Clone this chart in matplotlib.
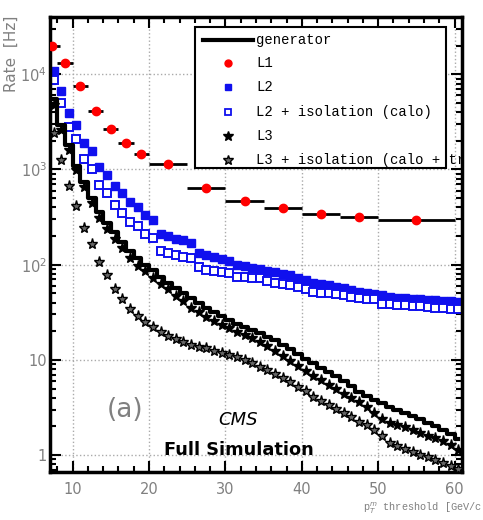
import numpy as np
import matplotlib
matplotlib.use("Agg")
import matplotlib.pyplot as plt
from matplotlib.patches import Rectangle
from matplotlib.lines import Line2D
from matplotlib.ticker import FixedLocator, NullFormatter

# 1 GeV bins, centres 7.5 ... 60.5
pt = np.arange(7.5, 61.0, 1.0)

generator = [5500, 2900, 1800, 1100, 740, 500, 360, 275, 220, 175,
             140, 118, 100, 88, 75, 65, 57, 50, 45, 40,
             35.5, 32, 29, 26.5, 24, 22, 20.5, 19, 17.5, 16,
             14.5, 13, 11.5, 10.3, 9.2, 8.3, 7.5, 6.8, 6.0, 5.3,
             4.6, 4.2, 3.8, 3.5, 3.2, 3.0, 2.8, 2.6, 2.4, 2.2,
             2.0, 1.85, 1.65, 1.48]

l2 = [10800, 6670, 3900, 2920, 1880, 1545, 1060, 885, 675, 565,
      455, 403, 332, 298, 211, 200, 188, 180, 167, 133,
      125, 120, 115, 110, 100, 96, 93, 90, 86, 83,
      80, 77, 73, 69, 65, 63, 61, 59, 57, 54,
      52, 50, 49, 48, 46, 45, 44.5, 44, 43.5, 43,
      42.5, 42, 41.5, 41]

l2_iso = [8640, 5000, 2790, 2100, 1290, 1016, 685, 566, 422, 350,
          282, 252, 210, 192, 140, 132, 127, 121, 117, 94,
          88, 85, 83, 82, 75, 74, 73, 72, 68, 65,
          63, 61, 59, 55, 52, 51, 50, 49, 48, 46,
          45, 44, 43.5, 39, 38.5, 38, 37.5, 37, 36.5, 36,
          35.5, 35, 34.5, 34]

l3 = [4800, 2600, 1600, 980, 650, 440, 310, 235, 185, 148,
      118, 98, 85, 72, 63, 55, 47, 42, 35, 31.5,
      28, 25.7, 23.5, 21.5, 19.8, 18.2, 17, 15.5, 14, 12.5,
      11, 9.8, 8.6, 7.6, 6.8, 6.1, 5.4, 4.9, 4.4, 4.0,
      3.6, 3.2, 2.8, 2.4, 2.2, 2.05, 1.95, 1.82, 1.72, 1.6,
      1.5, 1.4, 1.28, 1.12]

l3_iso = [2400, 1250, 670, 410, 245, 163, 107, 77, 55, 44,
          34, 29, 25, 22, 19.5, 18, 16.7, 15.4, 14.4, 13.8,
          13.2, 12.4, 11.9, 11.3, 10.6, 10.0, 9.2, 8.5, 7.8, 7.1,
          6.5, 5.8, 5.2, 4.7, 4.1, 3.7, 3.35, 3.05, 2.75, 2.5,
          2.25, 2.05, 1.85, 1.6, 1.35, 1.25, 1.15, 1.08, 1.0, 0.96,
          0.88, 0.82, 0.76, 0.71]

# L1 in coarser bins
l1_x = [7.3, 9, 11, 13, 15, 17, 19, 22.5, 27.5, 32.5, 37.5, 42.5, 47.5, 55]
l1_xerr = [1, 1, 1, 1, 1, 1, 1, 2.5, 2.5, 2.5, 2.5, 2.5, 2.5, 5]
l1 = [19700, 13200, 7500, 4100, 2640, 1910, 1450, 1150, 635, 472, 390, 344, 320, 298]

legend_labels = ["generator", "L1", "L2", "L2 + isolation (calo)", "L3",
                 "L3 + isolation (calo + track)"]

blue = "#1010ee"
gray = "#808080"

fig = plt.figure(figsize=(4.83, 5.2), dpi=100)
ax = fig.add_axes([0.103, 0.092, 0.854, 0.875])

ax.plot(pt, generator, drawstyle="steps-mid", color="black", lw=3, zorder=3)
ax.plot(pt, l2, "s", color=blue, ms=6, zorder=2)
ax.plot(pt, l2_iso, "s", mfc="white", mec=blue, mew=1.4, ms=6, zorder=2)
ax.plot(pt, l3, "*", color="black", ms=8, zorder=4)
ax.plot(pt, l3_iso, "*", mfc="#666666", mec="black", mew=1.0, ms=8, zorder=4)
ax.errorbar(l1_x, l1, xerr=l1_xerr, fmt="o", color="red", ms=6,
            ecolor="black", elinewidth=2, capsize=0, zorder=5)

ax.set_yscale("log")
ax.set_xlim(7, 61)
ax.set_ylim(0.662, 39800)

ax.set_xticks([10, 20, 30, 40, 50, 60])
ax.xaxis.set_minor_locator(FixedLocator(np.arange(8, 61, 2)))
ax.set_yticks([1, 10, 100, 1000, 10000])
ax.set_yticklabels(["1", "10", r"$10^{2}$", r"$10^{3}$", r"$10^{4}$"])
ax.yaxis.set_minor_formatter(NullFormatter())

ax.tick_params(which="both", direction="in", top=True, right=True,
               labelcolor=gray, labelsize=10.5, width=1.5)
ax.tick_params(which="major", length=8)
ax.tick_params(which="minor", length=4.5)
ax.tick_params(axis="y", pad=2)
ax.tick_params(axis="x", pad=7)
for s in ax.spines.values():
    s.set_linewidth(2.5)

ax.grid(True, which="major", linestyle=":", color="#aaaaaa", lw=1)

fig.text(0.024, 0.897, "Rate  [Hz]", color=gray, fontsize=11, rotation=90,
         ha="center", va="center")
fig.text(0.752, 0.023, r"p$_{T}^{m}$ threshold [GeV/c]", color=gray,
         fontsize=7.4, family="Liberation Mono", ha="left", va="center")

# legend drawn by hand so the last label runs past the frame like the original
ax.add_patch(Rectangle((0.352, 0.668), 0.609, 0.31, transform=ax.transAxes,
                       facecolor="white", edgecolor="black", lw=1.5, zorder=6))
rows = [0.949, 0.899, 0.846, 0.791, 0.738, 0.686]
styles = [dict(color="black", lw=3),
          dict(marker="o", color="red", ms=5, ls=""),
          dict(marker="s", color=blue, ms=4.5, ls=""),
          dict(marker="s", mfc="white", mec=blue, mew=1.3, ms=4.5, ls=""),
          dict(marker="*", color="black", ms=7, ls=""),
          dict(marker="*", mfc="#666666", mec="black", ms=7, ls="")]
for yr, lab, st in zip(rows, legend_labels, styles):
    if "marker" in st:
        h = Line2D([0.432], [yr], transform=ax.transAxes, zorder=7, **st)
    else:
        h = Line2D([0.372, 0.493], [yr, yr], transform=ax.transAxes, zorder=7, **st)
    ax.add_line(h)
    ax.text(0.5, yr, lab, transform=ax.transAxes, fontsize=10,
            family="Liberation Mono", va="center", ha="left", zorder=7,
            clip_on=True)

ax.text(0.183, 0.136, "(a)", transform=ax.transAxes, color=gray, fontsize=19,
        ha="center", va="center")
ax.text(0.457, 0.114, "CMS", transform=ax.transAxes, fontsize=13,
        style="italic", ha="center", va="center")
ax.text(0.459, 0.048, "Full Simulation", transform=ax.transAxes, fontsize=12.8,
        fontweight="bold", ha="center", va="center")

fig.savefig("out.png", dpi=100)
